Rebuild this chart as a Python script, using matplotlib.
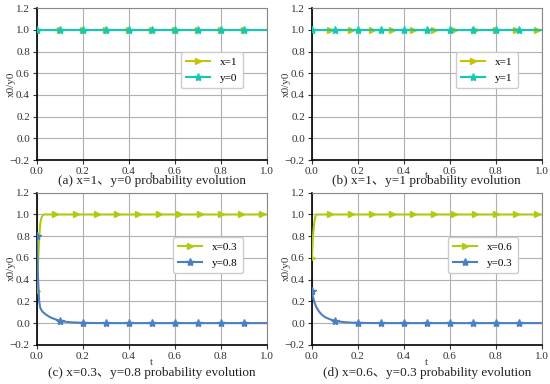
import numpy as np
import matplotlib
matplotlib.use("Agg")
import matplotlib.pyplot as plt
from matplotlib.lines import Line2D

plt.rcParams['font.family'] = ['Liberation Serif', 'Noto Sans CJK SC']

# marker positions
t_mark_x = [0.0, 0.08, 0.17, 0.26, 0.35, 0.44, 0.53, 0.62, 0.71, 0.8, 0.89, 0.98]
t_mark_y = [0.0, 0.1, 0.2, 0.3, 0.4, 0.5, 0.6, 0.7, 0.8, 0.9]
t_mark_a = [0.0, 0.1, 0.2, 0.3, 0.4, 0.5, 0.6, 0.7, 0.8, 0.9]

# flat panels (a), (b)
t_flat = [0.0, 1.0]
v_flat = [1.0, 1.0]

# panel (c)
t_c = [0.0, 0.005, 0.01, 0.015, 0.02, 0.025, 0.03, 0.04, 0.05, 0.06, 0.08, 0.1, 0.12, 0.15, 0.2, 0.3, 1.0]
x_c = [0.3, 0.55, 0.78, 0.92, 0.97, 0.99, 1.0, 1.0, 1.0, 1.0, 1.0, 1.0, 1.0, 1.0, 1.0, 1.0, 1.0]
y_c = [0.8, 0.42, 0.2, 0.14, 0.12, 0.105, 0.095, 0.078, 0.064, 0.052, 0.035, 0.022, 0.014, 0.007, 0.002, 0.0, 0.0]
xm_c = [0.3, 1, 1, 1, 1, 1, 1, 1, 1, 1, 1, 1]
ym_c = [0.8, 0.022, 0.002, 0, 0, 0, 0, 0, 0, 0]

# panel (d)
t_d = [0.0, 0.005, 0.01, 0.015, 0.02, 0.03, 0.04, 0.05, 0.06, 0.08, 0.1, 0.12, 0.15, 0.2, 0.3, 1.0]
x_d = [0.6, 0.8, 0.92, 0.98, 1.0, 1.0, 1.0, 1.0, 1.0, 1.0, 1.0, 1.0, 1.0, 1.0, 1.0, 1.0]
y_d = [0.3, 0.24, 0.2, 0.17, 0.145, 0.11, 0.085, 0.066, 0.052, 0.034, 0.022, 0.014, 0.007, 0.002, 0.0, 0.0]
xm_d = [0.6, 1, 1, 1, 1, 1, 1, 1, 1, 1, 1, 1]
ym_d = [0.3, 0.022, 0.002, 0, 0, 0, 0, 0, 0, 0]

panels = [
    dict(pos=[0.067, 0.583, 0.418, 0.396], tl=t_flat, xl=v_flat, yl=v_flat,
         tmx=t_mark_a, xm=[1.0] * 10, tmy=t_mark_a, ym=[1.0] * 10,
         cx='#c8c300', cy='#12c9b5', lx='x=1', ly='y=0',
         cap='(a) x=1、y=0 probability evolution', tpos=-0.10, cpos=-0.14),
    dict(pos=[0.567, 0.583, 0.418, 0.396], tl=t_flat, xl=v_flat, yl=v_flat,
         tmx=t_mark_x, xm=[1.0] * 12, tmy=t_mark_a, ym=[1.0] * 10,
         cx='#c8c300', cy='#12c9b5', lx='x=1', ly='y=1',
         cap='(b) x=1、y=1 probability evolution', tpos=-0.10, cpos=-0.14),
    dict(pos=[0.067, 0.102, 0.418, 0.396], tl=t_c, xl=x_c, yl=y_c,
         tmx=t_mark_x, xm=xm_c, tmy=t_mark_y, ym=ym_c,
         cx='#b3c912', cy='#4a80c0', lx='x=0.3', ly='y=0.8',
         cap='(c) x=0.3、y=0.8 probability evolution', tpos=-0.115, cpos=-0.185),
    dict(pos=[0.567, 0.102, 0.418, 0.396], tl=t_d, xl=x_d, yl=y_d,
         tmx=t_mark_x, xm=xm_d, tmy=t_mark_y, ym=ym_d,
         cx='#b3c912', cy='#4a80c0', lx='x=0.6', ly='y=0.3',
         cap='(d) x=0.6、y=0.3 probability evolution', tpos=-0.115, cpos=-0.185),
]

fig = plt.figure(figsize=(5.5, 3.84), dpi=100)

for p in panels:
    ax = fig.add_axes(p['pos'])
    ax.plot(p['tl'], p['xl'], color=p['cx'], lw=1.5, zorder=3)
    ax.plot(p['tmx'], p['xm'], ls='none', marker='>', ms=5, color=p['cx'], zorder=3)
    ax.plot(p['tl'], p['yl'], color=p['cy'], lw=1.5, zorder=4)
    ax.plot(p['tmy'], p['ym'], ls='none', marker='*', ms=6, color=p['cy'], zorder=4)
    ax.set_xlim(0, 1)
    ax.set_ylim(-0.2, 1.2)
    ax.set_xticks(np.arange(0, 1.01, 0.2))
    ax.set_yticks(np.arange(-0.2, 1.21, 0.2))
    ax.grid(True, color='#b0b0b0', lw=0.8)
    ax.tick_params(labelsize=8, length=3, pad=2, colors='#333333')
    for s in ['top', 'right']:
        ax.spines[s].set_color('#888888')
    for s in ['left', 'bottom']:
        ax.spines[s].set_color('black')
        ax.spines[s].set_linewidth(1.2)
    ax.set_ylabel('x0/y0', fontsize=8, color='#333333')
    ax.yaxis.set_label_coords(-0.09, 0.5)
    ax.text(0.5, p['tpos'], 't', transform=ax.transAxes, ha='center', va='center',
            fontsize=8, color='#333333')
    ax.text(0.5, p['cpos'], p['cap'], transform=ax.transAxes, ha='center', va='center',
            fontsize=9.5, color='#222222')
    handles = [Line2D([], [], color=p['cx'], lw=1.5, marker='>', ms=5),
               Line2D([], [], color=p['cy'], lw=1.5, marker='*', ms=6)]
    ax.legend(handles, [p['lx'], p['ly']], loc='upper right', bbox_to_anchor=(0.92, 0.745),
              fontsize=8, handlelength=2.2, borderpad=0.45, labelspacing=0.55,
              handletextpad=0.9, framealpha=1, edgecolor='#cccccc')

fig.savefig('out.png', dpi=100)
